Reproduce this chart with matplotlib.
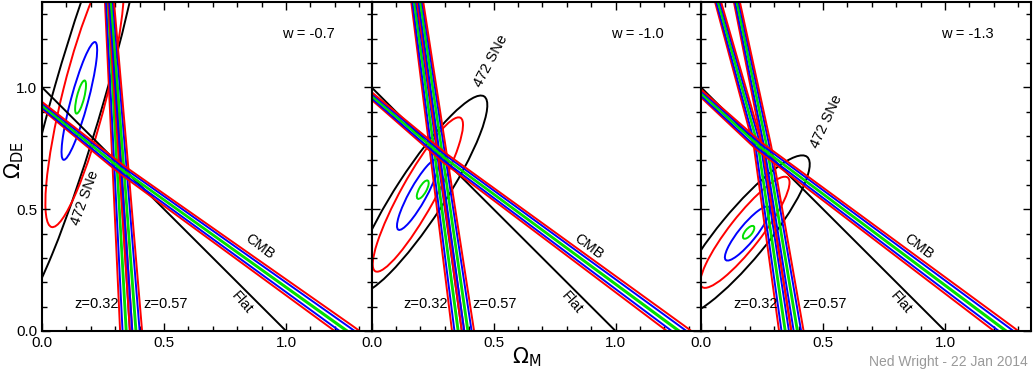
import numpy as np
import matplotlib.pyplot as plt
from matplotlib.patches import Ellipse
from matplotlib.ticker import MultipleLocator

plt.rcParams['font.family'] = ['Liberation Sans', 'DejaVu Sans']

w_labels = ['w = -0.7', 'w = -1.0', 'w = -1.3']

# SNe contours per panel: (centre x, centre y, major, minor, angle)
sne_green = [(0.158, 0.96, 0.14, 0.03, 76), (0.21, 0.58, 0.085, 0.03, 61), (0.195, 0.405, 0.065, 0.028, 50)]
sne_blue = [(0.153, 0.944, 0.50, 0.07, 75), (0.19, 0.56, 0.33, 0.07, 61), (0.19, 0.40, 0.28, 0.07, 51)]
sne_red = [(0.175, 0.97, 1.12, 0.18, 76), (0.19, 0.56, 0.72, 0.14, 61), (0.18, 0.405, 0.57, 0.13, 52)]
sne_black = [(0.155, 0.98, 1.9, 0.21, 74), (0.20, 0.56, 0.96, 0.20, 57), (0.168, 0.39, 0.84, 0.20, 50.6)]

# CMB band centre lines and half widths
cmb_x = [[0.0, 0.33, 1.25], [0.0, 0.30, 1.26], [0.0, 0.24, 1.25]]
cmb_y = [[0.925, 0.66, 0.0], [0.965, 0.71, 0.0], [0.975, 0.757, 0.0]]
cmb_hw = [0.012, 0.018, 0.03]

# BAO bands
bao32_x = [[0.27, 0.306, 0.345], [0.175, 0.262, 0.355], [0.07, 0.235, 0.345]]
bao32_y = [[1.35, 0.70, 0.0], [1.35, 0.70, 0.0], [1.35, 0.755, 0.0]]
bao57_x = [[0.283, 0.333, 0.385], [0.20, 0.294, 0.395], [0.147, 0.27, 0.395]]
bao57_y = [[1.35, 0.70, 0.0], [1.35, 0.70, 0.0], [1.35, 0.755, 0.0]]
bao_hw = [0.012, 0.018, 0.025]

flat_x = [0.0, 1.0]
flat_y = [1.0, 0.0]

levels = [-1.0, -0.6, -0.08, 0.08, 0.6, 1.0]
level_colors = ['red', 'blue', '#00e000', '#00e000', 'blue', 'red']
lw = 1.4


def band(ax, xs, ys, hw):
    p = np.column_stack([xs, ys]).astype(float)
    hw = np.asarray(hw, float)
    d0 = p[0] - p[1]
    d0 /= np.hypot(*d0)
    d1 = p[-1] - p[-2]
    d1 /= np.hypot(*d1)
    p = np.vstack([p[0] + 0.3 * d0, p, p[-1] + 0.3 * d1])
    hw = np.concatenate([[hw[0]], hw, [hw[-1]]])
    t = np.gradient(p, axis=0)
    n = np.column_stack([-t[:, 1], t[:, 0]]) / np.hypot(t[:, 0], t[:, 1])[:, None]
    for f, c in zip(levels, level_colors):
        q = p + f * hw[:, None] * n
        ax.plot(q[:, 0], q[:, 1], color=c, lw=lw)


fig = plt.figure(figsize=(10.34, 3.72), dpi=100)
lefts = [42, 371.5, 701]
axes = []
for i in range(3):
    ax = fig.add_axes([lefts[i] / 1034, 41 / 372, 329.5 / 1034, 329 / 372])
    axes.append(ax)
    ax.plot(flat_x, flat_y, color='black', lw=lw)
    for prm, c in zip([sne_black[i], sne_red[i], sne_blue[i], sne_green[i]],
                      ['black', 'red', 'blue', '#00e000']):
        ax.add_patch(Ellipse((prm[0], prm[1]), prm[2], prm[3], angle=prm[4],
                             fill=False, ec=c, lw=lw))
    band(ax, bao32_x[i], bao32_y[i], bao_hw)
    band(ax, bao57_x[i], bao57_y[i], bao_hw)
    band(ax, cmb_x[i], cmb_y[i], cmb_hw)

    ax.set_xlim(0, 1.35)
    ax.set_ylim(0, 1.35)
    ax.set_xticks([0, 0.5, 1.0])
    ax.set_xticklabels(['0.0', '0.5', '1.0'])
    ax.set_yticks([0, 0.5, 1.0])
    ax.set_yticklabels(['0.0', '0.5', '1.0'])
    ax.xaxis.set_minor_locator(MultipleLocator(0.1))
    ax.yaxis.set_minor_locator(MultipleLocator(0.1))
    ax.tick_params(which='both', direction='in', top=True, right=True, width=1, labelsize=11)
    ax.tick_params(which='major', length=6)
    ax.tick_params(which='minor', length=3.5)
    if i > 0:
        ax.tick_params(labelleft=False)
    for s in ax.spines.values():
        s.set_linewidth(1.5)

    ax.text(1.09, 1.22, w_labels[i], ha='center', va='center', fontsize=10.5)
    ax.text(0.222, 0.11, 'z=0.32', ha='center', va='center', fontsize=10.5)
    ax.text(0.505, 0.11, 'z=0.57', ha='center', va='center', fontsize=10.5)
    ax.text(0.82, 0.115, 'Flat', ha='center', va='center', fontsize=10.5, rotation=-49)
    ax.text(0.89, 0.348, 'CMB', ha='center', va='center', fontsize=10.5, rotation=-37)

sne_txt = [(0.177, 0.547, 70), (0.49, 1.11, 62), (0.515, 0.858, 65)]
for ax, (tx, ty, rot) in zip(axes, sne_txt):
    ax.text(tx, ty, '472 SNe', ha='center', va='center', fontsize=10.5, rotation=rot)

axes[0].set_ylabel(r'$\Omega_{\rm DE}$', fontsize=15)
axes[0].yaxis.set_label_coords(-0.05, 0.52)
axes[1].set_xlabel(r'$\Omega_{\rm M}$', fontsize=15)
axes[1].xaxis.set_label_coords(0.47, -0.045)

fig.text(1028 / 1034, 10 / 372, 'Ned Wright - 22 Jan 2014', ha='right', va='center',
         color='#999999', fontsize=10)

plt.savefig('out.png', dpi=100)
